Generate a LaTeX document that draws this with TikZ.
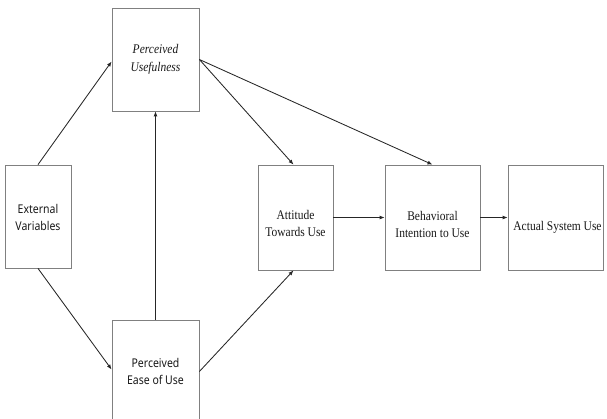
\documentclass[tikz,border=0pt]{standalone}
\usepackage{fontspec}
\setmainfont{Liberation Serif}
\newfontfamily\boxsans{Noto Sans}
\usetikzlibrary{arrows.meta,calc}
\begin{document}
\begin{tikzpicture}[x=1pt,y=-1pt,
  box/.style={draw=black!50,line width=0.8pt,inner sep=0pt,fill=white},
  lbl/.style={align=center,inner sep=0pt,text=black!90,yscale=1.15,transform shape,
    font=\fontsize{11.5}{15.5}\selectfont},
  sanslbl/.style={lbl,font=\boxsans\fontsize{10.5}{15.5}\selectfont},
  link/.style={draw=black!85,line width=0.85pt,-{Latex[length=5pt,width=4pt]}}
]
\useasboundingbox (0,0) rectangle (607,418);
\clip (0,0) rectangle (607,418);
% boxes
\node[box,minimum width=66pt,minimum height=103pt] (ev) at (38,216.5) {};
\node[box,minimum width=87pt,minimum height=103pt] (pu) at (155.5,59.5) {};
\node[box,minimum width=87pt,minimum height=103pt] (peou) at (155.5,371.5) {};
\node[box,minimum width=75pt,minimum height=105pt] (att) at (295.5,217.5) {};
\node[box,minimum width=95pt,minimum height=105pt] (bi) at (432.5,217.5) {};
\node[box,minimum width=95pt,minimum height=105pt] (asu) at (555.5,217.5) {};
% labels
\node[sanslbl] (ev-t) at ($(ev)+(0,1)$) {External\\Variables};
\node[lbl,font=\itshape\fontsize{11.5}{15.5}\selectfont] (pu-t) at ($(pu)+(0,0)$) {Perceived\\Usefulness};
\node[sanslbl] (peou-t) at ($(peou)+(0,0)$) {Perceived\\Ease of Use};
\node[lbl] (att-t) at ($(att)+(0,6)$) {Attitude\\Towards Use};
\node[lbl] (bi-t) at ($(bi)+(0,7)$) {Behavioral\\Intention to Use};
\node[lbl] (asu-t) at ($(asu)+(2,10)$) {Actual System Use};
% connectors
\draw[link] (ev.north) -- ($(pu.west)+(0,2)$);
\draw[link] (ev.south) -- ($(peou.west)+(0,-2)$);
\draw[link] (peou.north) -- (pu.south);
\draw[link] (pu.east) -- ($(att.north)+(-2,0)$);
\draw[link] (pu.east) -- (bi.north);
\draw[link] (peou.east) -- ($(att.south)+(-2,0)$);
\draw[link] (att.east) -- (bi.west);
\draw[link] (bi.east) -- (asu.west);
\end{tikzpicture}
\end{document}
